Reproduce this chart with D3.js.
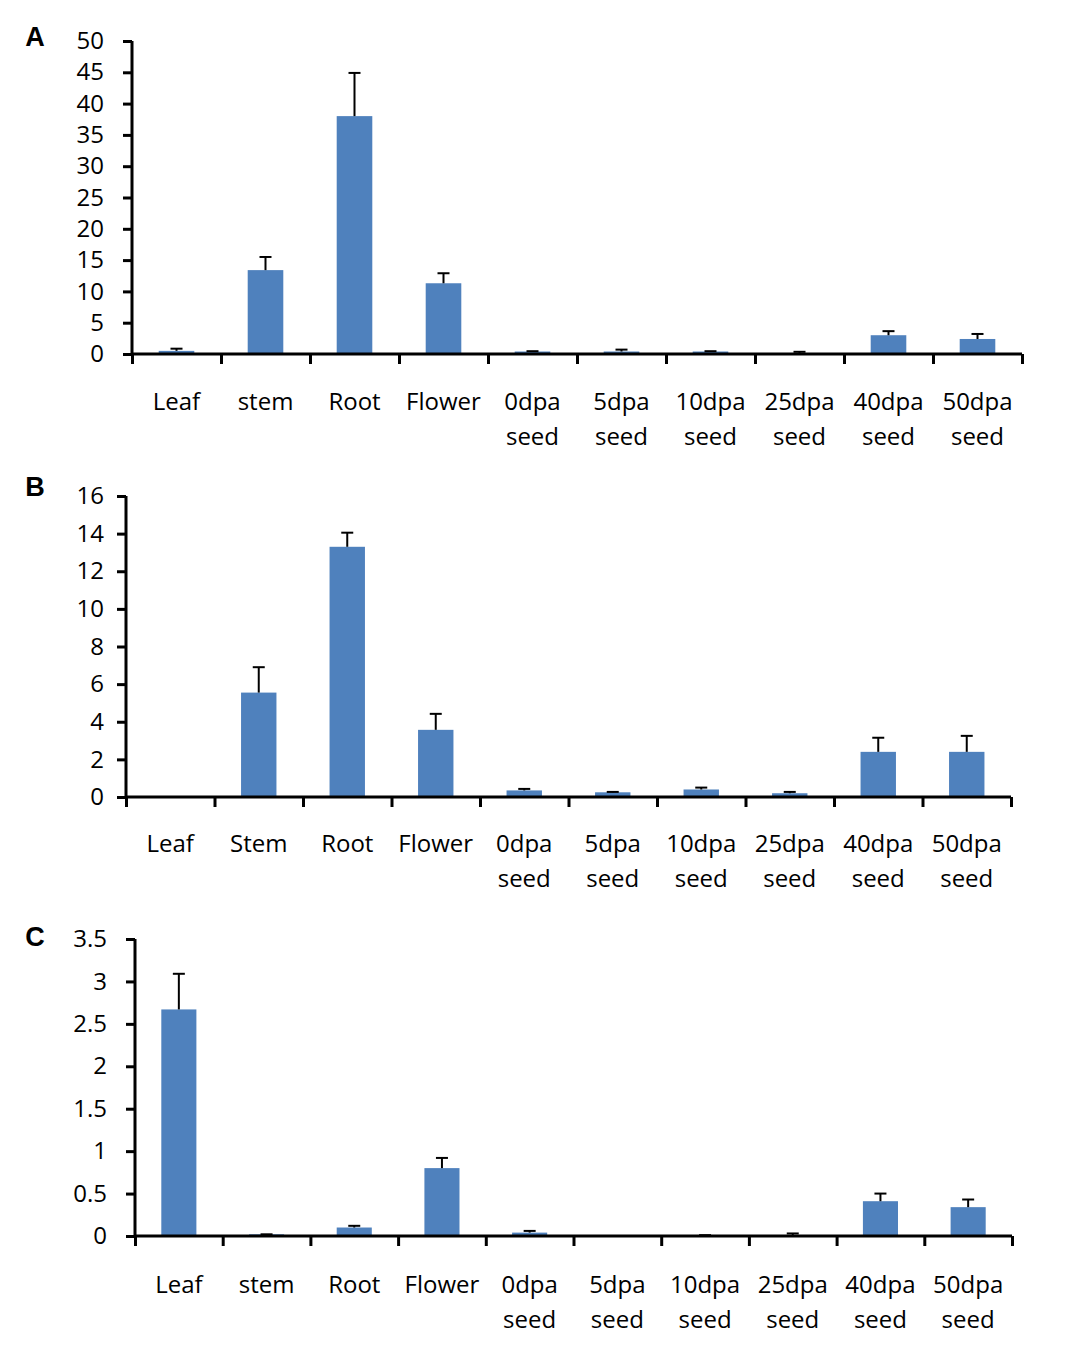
<!DOCTYPE html>
<html><head><meta charset="utf-8">
<script src="https://cdn.jsdelivr.net/npm/d3@7"></script>
<style>body{margin:0;background:#fff}svg{display:block}</style>
</head><body>
<svg id="chart" width="1073" height="1356"></svg>
<script>
const catsA = ["Leaf","stem","Root","Flower","0dpa seed","5dpa seed","10dpa seed","25dpa seed","40dpa seed","50dpa seed"];
const catsB = ["Leaf","Stem","Root","Flower","0dpa seed","5dpa seed","10dpa seed","25dpa seed","40dpa seed","50dpa seed"];
const catsC = ["Leaf","stem","Root","Flower","0dpa seed","5dpa seed","10dpa seed","25dpa seed","40dpa seed","50dpa seed"];
const valA = [0.5,13.4,38.0,11.3,0.4,0.4,0.4,0.1,3.0,2.4];
const errA = [0.35,2.1,6.9,1.6,0.05,0.3,0.05,0.25,0.65,0.8];
const valB = [0,5.55,13.3,3.57,0.35,0.25,0.4,0.2,2.4,2.4];
const errB = [0,1.35,0.75,0.85,0.08,0.02,0.1,0.07,0.75,0.85];
const valC = [2.67,0.02,0.1,0.8,0.04,0,0.01,0.01,0.41,0.34];
const errC = [0.42,0,0.02,0.12,0.02,0,0,0.02,0.09,0.09];
const ticksA = [0,5,10,15,20,25,30,35,40,45,50];
const ticksB = [0,2,4,6,8,10,12,14,16];
const ticksC = [0,0.5,1,1.5,2,2.5,3,3.5];

const panels = [
  {letter:"A", cats:catsA, vals:valA, errs:errA, ticks:ticksA, max:50, x0:132, x1:1022, yTop:41, yBot:354, lblY:37, line1:400, labRight:104},
  {letter:"B", cats:catsB, vals:valB, errs:errB, ticks:ticksB, max:16, x0:126, x1:1011, yTop:496, yBot:797, lblY:487, line1:842, labRight:104},
  {letter:"C", cats:catsC, vals:valC, errs:errC, ticks:ticksC, max:3.5, x0:135, x1:1012, yTop:939, yBot:1236, lblY:937, line1:1283, labRight:107}
];
const svg = d3.select("#chart");
const font = "'Open Sans', Lato, sans-serif";
const blue = "#4f81bd";

panels.forEach(p => {
  const g = svg.append("g");
  const x = d3.scaleBand().domain(p.cats).range([p.x0, p.x1]).padding(0);
  const y = d3.scaleLinear().domain([0, p.max]).range([p.yBot, p.yTop]);
  const bw = x.bandwidth() * 0.4;

  g.append("text").attr("x", 35).attr("y", p.lblY).attr("text-anchor","middle")
    .attr("dominant-baseline","central").attr("font-family","Arial, 'Liberation Sans', sans-serif")
    .attr("font-weight","bold").attr("font-size",27).text(p.letter);

  g.selectAll("rect").data(p.cats).join("rect")
    .attr("x", d => x(d) + (x.bandwidth() - bw)/2)
    .attr("width", bw)
    .attr("y", (d,i) => y(p.vals[i]))
    .attr("height", (d,i) => p.yBot - y(p.vals[i]))
    .attr("fill", blue);

  p.cats.forEach((c,i) => {
    if (p.vals[i] <= 0 && p.errs[i] <= 0) return;
    const cx = x(c) + x.bandwidth()/2;
    const top = y(p.vals[i] + p.errs[i]);
    g.append("line").attr("x1",cx).attr("x2",cx).attr("y1",y(p.vals[i])).attr("y2",top)
      .attr("stroke","#000").attr("stroke-width",2);
    g.append("line").attr("x1",cx-6).attr("x2",cx+6).attr("y1",top).attr("y2",top)
      .attr("stroke","#000").attr("stroke-width",2);
  });

  const tsize = 9;
  const ya = d3.axisLeft(y).tickValues(p.ticks).tickSize(tsize)
    .tickPadding(p.x0 - tsize - p.labRight).tickFormat(d => String(d));
  const yg = g.append("g").attr("transform",`translate(${p.x0},0)`).call(ya);
  yg.select(".domain").attr("stroke","#000").attr("stroke-width",3).attr("d",`M0,${p.yTop}V${p.yBot}`);
  yg.selectAll(".tick line").attr("stroke","#000").attr("stroke-width",3);
  yg.selectAll(".tick text").attr("font-family",font).attr("font-size",24).attr("fill","#000");

  const xa = d3.axisBottom(d3.scaleLinear().domain([0,10]).range([p.x0,p.x1]))
    .tickValues(d3.range(11)).tickSize(10).tickFormat("");
  const xg = g.append("g").attr("transform",`translate(0,${p.yBot})`).call(xa);
  xg.select(".domain").attr("stroke","#000").attr("stroke-width",3).attr("d",`M${p.x0},0H${p.x1}`);
  xg.selectAll(".tick line").attr("stroke","#000").attr("stroke-width",3);

  p.cats.forEach(c => {
    const parts = c.split(" ");
    const cx = x(c) + x.bandwidth()/2;
    parts.forEach((t,k) => {
      g.append("text").attr("x",cx).attr("y",p.line1 + k*35).attr("text-anchor","middle")
        .attr("dominant-baseline","central").attr("font-family",font).attr("font-size",24)
        .attr("fill","#000").text(t);
    });
  });
});
</script>
</body></html>
